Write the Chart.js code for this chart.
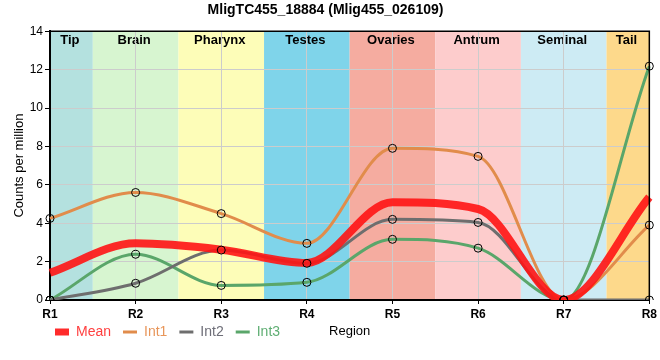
<!DOCTYPE html>
<html><head><meta charset="utf-8">
<script src="https://cdn.jsdelivr.net/npm/chart.js@4/dist/chart.umd.min.js"></script>
<style>html,body{margin:0;padding:0;background:#fff}#wrap{width:660px;height:360px;position:relative}</style>
</head><body><div id="wrap"><canvas id="c" width="660" height="360"></canvas></div>
<script>
const regions = ['R1','R2','R3','R4','R5','R6','R7','R8'];
const regionNames = ['Tip','Brain','Pharynx','Testes','Ovaries','Antrum','Seminal','Tail'];
const regionColors = ['#b4e1df','#d7f5d0','#fdfdb8','#7fd4ea','#f5aca0','#fdcccc','#cdebf4','#fdd98b'];
const mean = [1.42, 2.95, 2.62, 1.93, 5.09, 4.74, 0, 5.36];
const int1 = [4.25, 5.6, 4.5, 2.95, 7.9, 7.48, 0, 3.9];
const int2 = [0, 0.87, 2.6, 1.91, 4.2, 4.04, 0, 0];
const int3 = [0, 2.38, 0.76, 0.92, 3.16, 2.7, 0, 12.18];
const yMin = 0, yMax = 14, yStep = 2;

const SANS = "'Liberation Sans',Arial,sans-serif";
const lineColors = {Mean:'rgba(255,20,20,0.9)', Int1:'#e18c4b', Int2:'#6e6e6e', Int3:'#5aa66a'};
const legendText = {Mean:'#ff4040', Int1:'#e8965a', Int2:'#6e6e78', Int3:'#5fae73'};

const bands = {
  id:'bands',
  beforeDraw(chart){
    const {ctx, chartArea:a, scales:{x}} = chart;
    ctx.save();
    regionNames.forEach((name,i)=>{
      const x0 = Math.max(a.left, x.getPixelForValue(i-0.5));
      const x1 = Math.min(a.right, x.getPixelForValue(i+0.5));
      ctx.fillStyle = regionColors[i];
      ctx.fillRect(x0, a.top, x1-x0, a.bottom-a.top);
    });
    ctx.fillStyle = '#000';
    ctx.font = 'bold 13px ' + SANS;
    ctx.textAlign = 'center';
    ctx.textBaseline = 'alphabetic';
    regionNames.forEach((name,i)=>{
      const x0 = Math.max(a.left, x.getPixelForValue(i-0.5));
      const x1 = Math.min(a.right, x.getPixelForValue(i+0.5));
      ctx.fillText(name, (x0+x1)/2 - 1.5, a.top + 12.5);
    });
    ctx.restore();
  },
  afterLayout(chart){
    const lg = chart.legend;
    const h = lg.bottom - lg.top;
    lg.left = 43;
    lg.top = 313;
    lg.bottom = lg.top + h;
  },
  afterDraw(chart){
    const {ctx, chartArea:a} = chart;
    ctx.save();
    ctx.strokeStyle = '#000';
    ctx.lineWidth = 1.5;
    ctx.beginPath();
    ctx.moveTo(a.left, a.top); ctx.lineTo(a.right, a.top); ctx.lineTo(a.right, a.bottom);
    ctx.stroke();
    ctx.restore();
  }
};

function lineDs(label, data, width){
  return {label, data, borderColor: lineColors[label], backgroundColor: lineColors[label],
    borderWidth: width, pointRadius: 0, cubicInterpolationMode: 'monotone', fill: false,
    order: label === 'Mean' ? 1 : 2};
}
function pointDs(label, data){
  return {label: label + ' pts', data, showLine: false, pointRadius: 4, pointBorderWidth: 1,
    pointBorderColor: '#000', pointBackgroundColor: 'rgba(0,0,0,0)', order: 0, isPoints: true};
}

new Chart(document.getElementById('c'), {
  type: 'line',
  data: {
    labels: regions,
    datasets: [
      lineDs('Mean', mean, 8),
      lineDs('Int1', int1, 3),
      lineDs('Int2', int2, 3),
      lineDs('Int3', int3, 3),
      pointDs('Int1', int1),
      pointDs('Int2', int2),
      pointDs('Int3', int3)
    ]
  },
  options: {
    responsive: false,
    animation: false,
    events: [],
    layout: {padding: {left: 0, right: 9, top: 0, bottom: -18}},
    plugins: {
      title: {display: true, text: 'MligTC455_18884 (Mlig455_026109)', color: '#000',
        font: {family: SANS, size: 14, weight: 'bold'}, padding: {top: 2, bottom: 12.4}},
      tooltip: {enabled: false},
      legend: {
        position: 'bottom', align: 'start',
        labels: {
          font: {family: SANS, size: 14}, usePointStyle: true, pointStyleWidth: 14, padding: 12,
          generateLabels(chart){
            return chart.data.datasets.map((ds,i)=>({ds,i})).filter(o=>!o.ds.isPoints).map(({ds,i})=>({
              text: ds.label, fillStyle: ds.borderColor, strokeStyle: ds.borderColor,
              lineWidth: ds.label === 'Mean' ? 7 : 3, pointStyle: 'line', lineCap: 'butt',
              fontColor: legendText[ds.label], datasetIndex: i, hidden: false
            }));
          }
        }
      }
    },
    scales: {
      x: {
        type: 'category', offset: false,
        grid: {color: '#cccccc', tickColor: '#000', tickLength: 4},
        border: {color: '#000', width: 2},
        ticks: {color: '#000', font: {family: SANS, size: 12, weight: 'bold'}, padding: 3, maxRotation: 0, autoSkip: false},
        title: {display: true, text: 'Region', color: '#000', font: {family: SANS, size: 13}, padding: {top: 0, bottom: 3}},
        afterFit(s){ s.height = 42; }
      },
      y: {
        min: yMin, max: yMax,
        grid: {color: '#cccccc', tickColor: '#000', tickLength: 5},
        border: {color: '#000', width: 2},
        ticks: {stepSize: yStep, color: '#000', font: {family: SANS, size: 12}, padding: 2},
        title: {display: true, text: 'Counts per million', color: '#000', font: {family: SANS, size: 13}, padding: {top: 12, bottom: 0}},
        afterFit(s){ s.width = 50; }
      }
    }
  },
  plugins: [bands]
});
</script></body></html>
